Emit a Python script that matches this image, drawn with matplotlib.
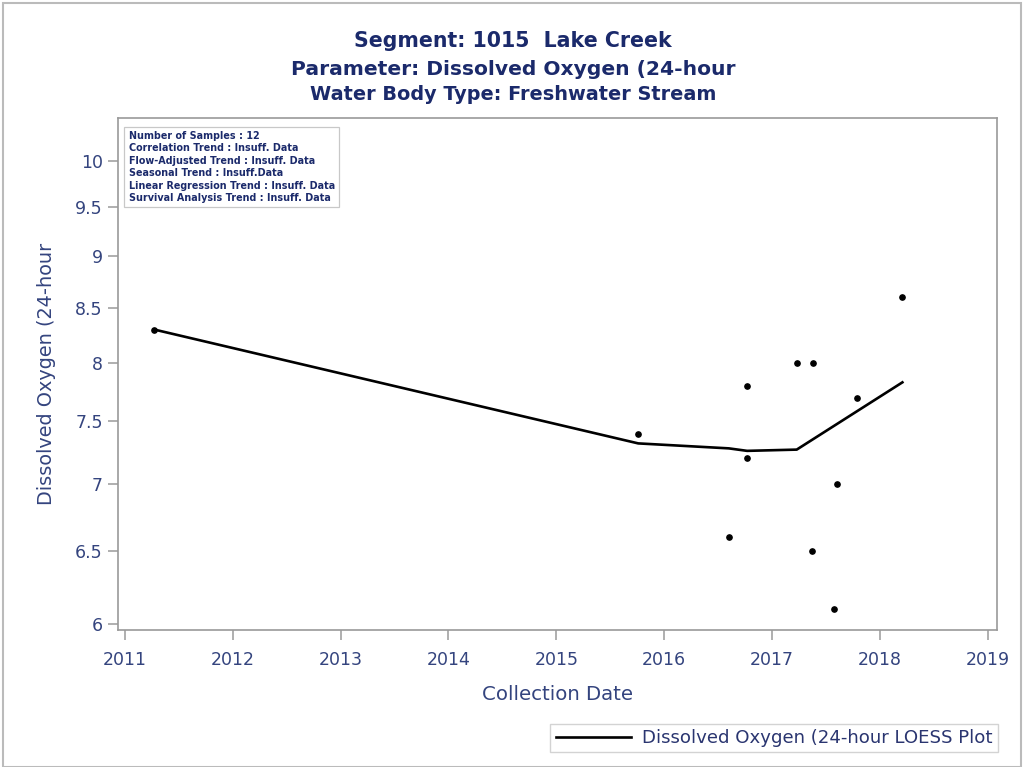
import matplotlib
matplotlib.use('Agg')
import matplotlib.pyplot as plt
from matplotlib.ticker import FixedLocator, NullLocator, FixedFormatter
from matplotlib.patches import Rectangle

plt.rcParams['font.family'] = ['DejaVu Sans']

# sample dates (decimal years) and dissolved oxygen values
dates = [2011.27, 2015.76, 2016.60, 2016.77, 2016.77, 2017.23,
         2017.38, 2017.37, 2017.60, 2017.58, 2017.79, 2018.21]
do_vals = [8.3, 7.4, 6.6, 7.8, 7.2, 8.0, 8.0, 6.5, 7.0, 6.1, 7.7, 8.6]

# LOESS curve
loess_x = [2011.27, 2015.76, 2016.60, 2016.77, 2017.23, 2018.21]
loess_y = [8.30, 7.32, 7.28, 7.26, 7.27, 7.83]

yticks = [6, 6.5, 7, 7.5, 8, 8.5, 9, 9.5, 10]
ytick_labels = ['6', '6.5', '7', '7.5', '8', '8.5', '9', '9.5', '10']
years = [2011, 2012, 2013, 2014, 2015, 2016, 2017, 2018, 2019]

info_lines = ['Number of Samples : 12',
              'Correlation Trend : Insuff. Data',
              'Flow-Adjusted Trend : Insuff. Data',
              'Seasonal Trend : Insuff.Data',
              'Linear Regression Trend : Insuff. Data',
              'Survival Analysis Trend : Insuff. Data']

navy = '#1b2a6b'
lab = '#34447e'
grey = '#9a9a9a'

fig = plt.figure(figsize=(10.26, 7.67), dpi=100)
ax = fig.add_axes([0.115, 0.179, 0.857, 0.667])

ax.plot(loess_x, loess_y, color='black', lw=1.9, label='Dissolved Oxygen (24-hour LOESS Plot')
ax.plot(dates, do_vals, 'o', color='black', ms=3.8, label='_nolegend_')

ax.set_yscale('log')
ax.set_ylim(5.96, 10.48)
ax.set_xlim(2010.935, 2019.09)
ax.yaxis.set_major_locator(FixedLocator(yticks))
ax.yaxis.set_major_formatter(FixedFormatter(ytick_labels))
ax.yaxis.set_minor_locator(NullLocator())
ax.set_xticks(years)
ax.set_xticklabels([str(y) for y in years])

for s in ax.spines.values():
    s.set_color(grey)
    s.set_linewidth(1.2)
ax.tick_params(axis='both', colors=grey, labelcolor=lab, labelsize=12.5, length=7, width=1.1)
ax.tick_params(axis='x', pad=8)
ax.tick_params(axis='y', pad=4)

ax.set_xlabel('Collection Date', fontsize=14.2, color=lab, labelpad=12)
ax.set_ylabel('Dissolved Oxygen (24-hour', fontsize=13.9, color=lab, labelpad=14)

fig.text(0.5, 0.939, 'Segment: 1015  Lake Creek', ha='center', va='baseline',
         fontsize=14.8, fontweight='bold', color=navy)
fig.text(0.5, 0.902, 'Parameter: Dissolved Oxygen (24-hour', ha='center', va='baseline',
         fontsize=14.6, fontweight='bold', color=navy)
fig.text(0.5, 0.870, 'Water Body Type: Freshwater Stream', ha='center', va='baseline',
         fontsize=13.9, fontweight='bold', color=navy)

ax.text(0.012, 0.975, '\n'.join(info_lines), transform=ax.transAxes, ha='left', va='top',
        fontsize=6.9, fontweight='bold', color=navy, linespacing=1.3,
        bbox=dict(boxstyle='square,pad=0.45', fc='white', ec='#c8c8c8', lw=0.9))

leg = fig.legend(loc='lower right', bbox_to_anchor=(0.973, 0.019), frameon=True,
                 fancybox=False, fontsize=13.1, handlelength=4.1, borderpad=0.3,
                 handletextpad=0.65, borderaxespad=0)
leg.get_frame().set_edgecolor('#c8c8c8')
for t in leg.get_texts():
    t.set_color('#2a3570')

fig.patches.append(Rectangle((0.003, 0.0), 0.992, 0.996, transform=fig.transFigure,
                             fill=False, ec='#bbbbbb', lw=1.5))

fig.savefig('out.png', dpi=100)
